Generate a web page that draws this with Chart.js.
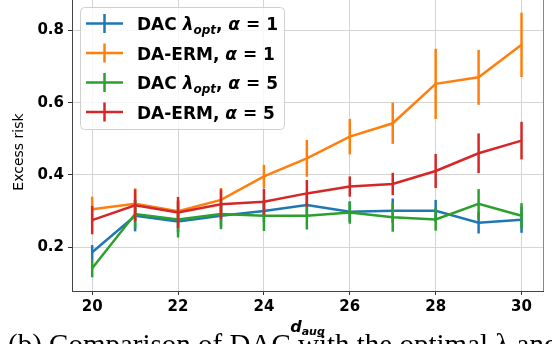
<!DOCTYPE html>
<html>
<head>
<meta charset="utf-8">
<script src="https://cdn.jsdelivr.net/npm/chart.js@4.4.0/dist/chart.umd.min.js"></script>
<style>
    html, body { margin: 0; padding: 0; background: #fff; }
    #wrap { position: relative; width: 552px; height: 344px; }
</style>
</head>
<body>
<div id="wrap"><canvas id="riskChart" width="552" height="344"></canvas></div>
<script>
    // d_aug values on the x axis
    const dAug = [20, 21, 22, 23, 24, 25, 26, 27, 28, 29, 30];

    // DAC lambda_opt, alpha = 1
    const dacA1 = [0.186, 0.287, 0.271, 0.287, 0.300, 0.317, 0.298, 0.301, 0.301, 0.268, 0.276];
    const dacA1Err = [0.020, 0.043, 0.030, 0.030, 0.030, 0.030, 0.028, 0.034, 0.030, 0.030, 0.036];
    // DA-ERM, alpha = 1
    const ermA1 = [0.305, 0.320, 0.300, 0.331, 0.396, 0.446, 0.506, 0.543, 0.652, 0.670, 0.760];
    const ermA1Err = [0.035, 0.043, 0.030, 0.033, 0.032, 0.051, 0.049, 0.057, 0.097, 0.076, 0.089];
    // DAC lambda_opt, alpha = 5
    const dacA5 = [0.142, 0.292, 0.277, 0.292, 0.287, 0.287, 0.296, 0.283, 0.277, 0.320, 0.287];
    const dacA5Err = [0.025, 0.040, 0.050, 0.042, 0.042, 0.038, 0.031, 0.040, 0.031, 0.041, 0.035];
    // DA-ERM, alpha = 5
    const ermA5 = [0.275, 0.316, 0.296, 0.319, 0.326, 0.349, 0.368, 0.375, 0.411, 0.460, 0.495];
    const ermA5Err = [0.039, 0.044, 0.043, 0.041, 0.036, 0.037, 0.028, 0.031, 0.047, 0.055, 0.052];

    const xTicks = [20, 22, 24, 26, 28, 30];
    const yTicks = [0.2, 0.4, 0.6, 0.8];

    const seriesLabels = ['DAC λopt, α = 1', 'DA-ERM, α = 1', 'DAC λopt, α = 5', 'DA-ERM, α = 5'];
    const colors = ['#1f77b4', '#ff7f0e', '#2ca02c', '#d62728'];

    const BOLD = 'bold 17px "DejaVu Sans"';
    const BOLDIT = 'italic bold 17px "DejaVu Sans"';
    const SUB = 'italic bold 12px "DejaVu Sans"';
    // rich text pieces for the legend: [text, font, baseline shift]
    const legendParts = [
        [['DAC ', BOLD, 0], ['λ', BOLDIT, 0], ['opt', SUB, 4], [', ', BOLD, 0], ['α', BOLDIT, 0], [' = 1', BOLD, 0]],
        [['DA-ERM, ', BOLD, 0], ['α', BOLDIT, 0], [' = 1', BOLD, 0]],
        [['DAC ', BOLD, 0], ['λ', BOLDIT, 0], ['opt', SUB, 4], [', ', BOLD, 0], ['α', BOLDIT, 0], [' = 5', BOLD, 0]],
        [['DA-ERM, ', BOLD, 0], ['α', BOLDIT, 0], [' = 5', BOLD, 0]]
    ];

    const captionText = '(b) Comparison of DAC with the optimal λ and DA-ERM';

    function points(vals) {
        return vals.map((v, i) => ({ x: dAug[i], y: v }));
    }

    function drawParts(ctx, parts, x, y) {
        parts.forEach(p => {
            ctx.font = p[1];
            ctx.fillText(p[0], x, y + p[2]);
            x += ctx.measureText(p[0]).width;
        });
    }

    // vertical error bars, drawn right after each line so the layering matches
    const errorBars = {
        id: 'errorBars',
        afterDatasetDraw(chart, args) {
            const ds = chart.data.datasets[args.index];
            const xs = chart.scales.x, ys = chart.scales.y;
            const ctx = chart.ctx;
            ctx.save();
            ctx.strokeStyle = ds.borderColor;
            ctx.lineWidth = 2.5;
            ds.errors.forEach((e, i) => {
                const p = ds.data[i];
                const px = xs.getPixelForValue(p.x);
                ctx.beginPath();
                ctx.moveTo(px, ys.getPixelForValue(p.y - e));
                ctx.lineTo(px, ys.getPixelForValue(p.y + e));
                ctx.stroke();
            });
            ctx.restore();
        }
    };

    const decorations = {
        id: 'decorations',
        afterDraw(chart) {
            const ctx = chart.ctx;
            const area = chart.chartArea;
            ctx.save();

            // right spine
            ctx.strokeStyle = '#888';
            ctx.lineWidth = 1;
            ctx.beginPath();
            ctx.moveTo(area.right + 0.5, area.top);
            ctx.lineTo(area.right + 0.5, area.bottom);
            ctx.stroke();

            // legend
            const bx = 80.5, by = 7.5, bw = 204, bh = 122;
            ctx.fillStyle = 'rgba(255,255,255,0.8)';
            ctx.strokeStyle = '#d0d0d0';
            ctx.beginPath();
            ctx.roundRect(bx, by, bw, bh, 4);
            ctx.fill();
            ctx.stroke();
            legendParts.forEach((parts, i) => {
                const rowY = 23.5 + i * 29.5;
                ctx.strokeStyle = chart.data.datasets[i].borderColor;
                ctx.lineWidth = 2.5;
                ctx.beginPath();
                ctx.moveTo(86, rowY);
                ctx.lineTo(123, rowY);
                ctx.moveTo(104.5, rowY - 9.5);
                ctx.lineTo(104.5, rowY + 9.5);
                ctx.stroke();
                ctx.fillStyle = '#000';
                ctx.textBaseline = 'alphabetic';
                ctx.textAlign = 'left';
                drawParts(ctx, parts, 137, rowY + 6.5);
            });

            // y axis title
            ctx.save();
            ctx.translate(19, 152);
            ctx.rotate(-Math.PI / 2);
            ctx.font = '14px "DejaVu Sans"';
            ctx.fillStyle = '#000';
            ctx.textAlign = 'center';
            ctx.textBaseline = 'middle';
            ctx.fillText('Excess risk', 0, 0);
            ctx.restore();

            // x axis title d_aug
            ctx.fillStyle = '#000';
            ctx.textAlign = 'left';
            ctx.textBaseline = 'alphabetic';
            const xParts = [['d', 'italic bold 16px "DejaVu Sans"', 0], ['aug', 'italic bold 11px "DejaVu Sans"', 3]];
            let w = 0;
            xParts.forEach(p => { ctx.font = p[1]; w += ctx.measureText(p[0]).width; });
            drawParts(ctx, xParts, (area.left + area.right) / 2 - w / 2, 332);

            // figure caption, cut by the bottom edge
            ctx.font = '29px "Liberation Serif"';
            ctx.fillText(captionText, 8, 354);

            ctx.restore();
        }
    };

    const ctx = document.getElementById('riskChart').getContext('2d');
    const riskChart = new Chart(ctx, {
        type: 'line',
        data: {
            datasets: [
                { label: seriesLabels[0], data: points(dacA1), errors: dacA1Err, borderColor: colors[0], order: 3 },
                { label: seriesLabels[1], data: points(ermA1), errors: ermA1Err, borderColor: colors[1], order: 2 },
                { label: seriesLabels[2], data: points(dacA5), errors: dacA5Err, borderColor: colors[2], order: 1 },
                { label: seriesLabels[3], data: points(ermA5), errors: ermA5Err, borderColor: colors[3], order: 0 }
            ]
        },
        options: {
            responsive: false,
            animation: false,
            devicePixelRatio: 1,
            layout: { padding: { left: 0, right: 9, top: 0, bottom: 0 } },
            elements: {
                line: { borderWidth: 2.5, tension: 0, fill: false },
                point: { radius: 0, hoverRadius: 0 }
            },
            scales: {
                x: {
                    type: 'linear',
                    min: 19.53,
                    max: 30.5,
                    afterBuildTicks: s => { s.ticks = xTicks.map(v => ({ value: v })); },
                    afterFit: s => { s.height = 53; s.paddingLeft = 0; s.paddingRight = 0; },
                    grid: { color: '#d4d4d4', tickColor: '#333', tickLength: 4 },
                    border: { color: '#444' },
                    ticks: {
                        color: '#000',
                        padding: 3,
                        maxRotation: 0,
                        font: { family: 'DejaVu Sans', weight: 'bold', size: 15 }
                    }
                },
                y: {
                    type: 'linear',
                    min: 0.079,
                    max: 0.884,
                    afterBuildTicks: s => { s.ticks = yTicks.map(v => ({ value: v })); },
                    afterFit: s => { s.width = 72; s.paddingTop = 0; s.paddingBottom = 0; },
                    grid: { color: '#d4d4d4', tickColor: '#333', tickLength: 4 },
                    border: { color: '#444' },
                    ticks: {
                        color: '#000',
                        padding: 4,
                        callback: v => v.toFixed(1),
                        font: { family: 'DejaVu Sans', weight: 'bold', size: 15 }
                    }
                }
            },
            plugins: {
                legend: { display: false },
                tooltip: { enabled: false }
            }
        },
        plugins: [errorBars, decorations]
    });
</script>
</body>
</html>
